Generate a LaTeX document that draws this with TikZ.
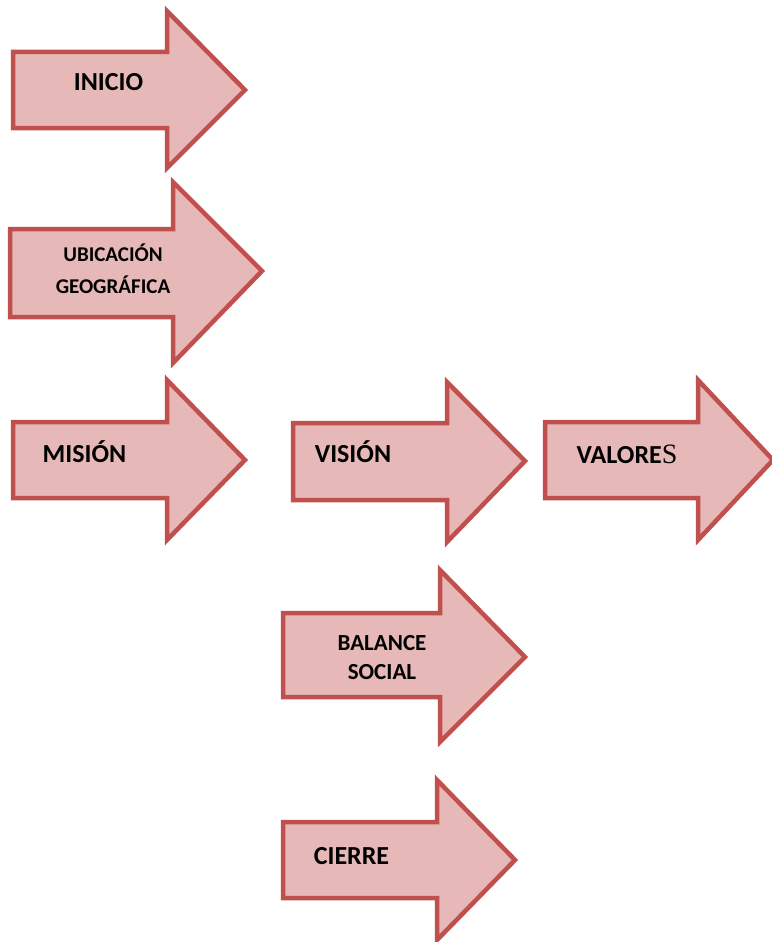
\documentclass[tikz,border=0pt]{standalone}
\usepackage{fontspec}
\setmainfont{Carlito}
\newfontfamily\serifS{Liberation Serif}
\definecolor{arrowfill}{HTML}{E6B8B7}
\definecolor{arrowline}{HTML}{C0504D}
\tikzset{
  bigarrow/.style={fill=arrowfill, draw=arrowline, line width=4.5pt, line join=miter},
  lbl/.style={anchor=base, inner sep=0pt, font=\bfseries\fontsize{26}{30}\selectfont, text=black},
  lblsmall/.style={lbl, font=\bfseries\fontsize{21}{24}\selectfont},
  lblmid/.style={lbl, font=\bfseries\fontsize{23}{26}\selectfont}
}
% #1 left, #2 body top, #3 body bottom, #4 neck x, #5 head top, #6 head bottom, #7 tip x, #8 tip y
\newcommand{\pinkarrow}[8]{%
  \draw[bigarrow] (#1,#2) -- (#4,#2) -- (#4,#5) -- (#7,#8) -- (#4,#6) -- (#4,#3) -- (#1,#3) -- cycle;}
\begin{document}
\begin{tikzpicture}[x=1pt,y=-1pt]
\useasboundingbox (0,0) rectangle (771,942);
\pinkarrow{13}{52}{128}{167}{11}{168}{245}{90}
\pinkarrow{10}{229}{317}{173}{182}{363}{262}{271}
\pinkarrow{13}{422}{498}{167}{380}{540}{245}{460}
\pinkarrow{293}{423}{500}{447}{382}{542}{525}{461}
\pinkarrow{545}{422}{498}{698}{380}{540}{773}{460}
\pinkarrow{283}{613}{697}{440}{570}{742}{525}{657}
\pinkarrow{283}{822}{898}{437}{780}{940}{515}{860}
\node[lbl] (inicio) at (108.5,90.4) {INICIO};
\node[lblsmall] (ubic) at (113,261.8) {UBICACIÓN};
\node[lblsmall] (geo) at (113,293.8) {GEOGRÁFICA};
\node[lbl] (mision) at (84.5,462.4) {MISIÓN};
\node[lbl] (vision) at (353,462.4) {VISIÓN};
\node[lbl] (valores) at (627,463.4) {VALORE{\serifS\mdseries\fontsize{28}{30}\selectfont S}};
\node[lblmid] (balance) at (382,650.4) {BALANCE};
\node[lblmid] (social) at (382,679.4) {SOCIAL};
\node[lbl] (cierre) at (351.5,864.4) {CIERRE};
\end{tikzpicture}
\end{document}
